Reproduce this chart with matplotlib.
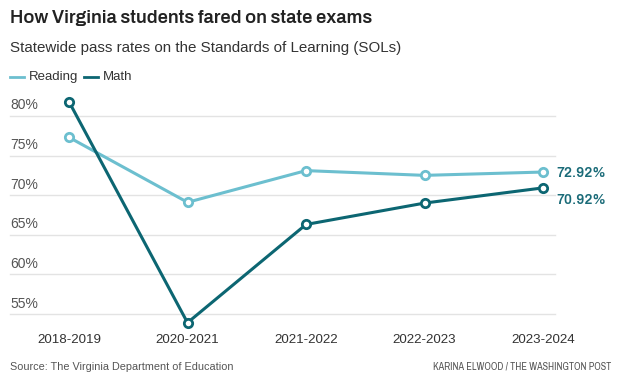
import matplotlib.pyplot as plt
from matplotlib.lines import Line2D

# data
years = ["2018-2019", "2020-2021", "2021-2022", "2022-2023", "2023-2024"]
reading = [77.3, 69.1, 73.1, 72.5, 72.92]
math_ = [81.8, 53.9, 66.3, 69.0, 70.92]
yticks = [55, 60, 65, 70, 75, 80]

c_read = "#6cbfcf"
c_math = "#0c6672"
c_text = "#333333"

body = ["Liberation Sans", "DejaVu Sans"]
bold = ["Archivo", "Liberation Sans", "DejaVu Sans"]
narrow = ["Archivo Narrow", "Liberation Sans", "DejaVu Sans"]
plt.rcParams["font.family"] = body

fig = plt.figure(figsize=(6.24, 3.84), dpi=100)
ax = fig.add_axes([0, 0.1411, 1, 0.6188])
x = list(range(len(years)))
# axes spans the full width; x range chosen so points land where the reference puts them
ax.set_xlim(-69 / 118.5, (624 - 69) / 118.5)
ax.set_ylim(53, 83)
for s in ax.spines.values():
    s.set_visible(False)
ax.set_yticks([])
ax.set_xticks(x)
ax.set_xticklabels(years, fontsize=9.6, color=c_text)
ax.tick_params(axis="x", length=0, pad=3)
ax.patch.set_alpha(0)

# gridlines + labels above them
gx0 = (10 - 69) / 118.5
gx1 = (555 - 69) / 118.5
for v in yticks:
    ax.plot([gx0, gx1], [v, v], color="#e3e3e3", lw=1, zorder=0)
    ax.annotate(f"{v}%", (gx0, v), xytext=(0, 2.5), textcoords="offset points",
                fontsize=10, color="#555555", va="bottom", ha="left")

ax.plot(x, reading, color=c_read, lw=2.2, marker="o", ms=6, mfc="white",
        mec=c_read, mew=2, zorder=3)
ax.plot(x, math_, color=c_math, lw=2.2, marker="o", ms=6, mfc="white",
        mec=c_math, mew=2, zorder=4)

ax.annotate(f"{reading[-1]:.2f}%", (x[-1], reading[-1]), xytext=(9.5, -1),
            textcoords="offset points", fontsize=10, fontweight="bold",
            family=bold, color="#1a6b78", va="center", ha="left")
ax.annotate(f"{math_[-1]:.2f}%", (x[-1], math_[-1]), xytext=(9.5, -8.5),
            textcoords="offset points", fontsize=10, fontweight="bold",
            family=bold, color="#1a6b78", va="center", ha="left")

# titles
fig.text(10 / 624, 1 - 17.5 / 384, "How Virginia students fared on state exams",
         fontsize=13.2, fontweight="bold", family=bold, color="#222222",
         va="center", ha="left")
fig.text(10 / 624, 1 - 48 / 384, "Statewide pass rates on the Standards of Learning (SOLs)",
         fontsize=10.9, color=c_text, va="center", ha="left")

# legend
ly = 1 - 77 / 384
fig.add_artist(Line2D([10 / 624, 24 / 624], [ly, ly], color=c_read, lw=2))
fig.text(29 / 624, ly, "Reading", fontsize=9.5, color=c_text, va="center")
fig.add_artist(Line2D([84 / 624, 98 / 624], [ly, ly], color=c_math, lw=2))
fig.text(103 / 624, ly, "Math", fontsize=9.5, color=c_text, va="center")

# footer
fig.text(10 / 624, 1 - 367 / 384, "Source: The Virginia Department of Education",
         fontsize=7.8, color="#555555", va="center")
fig.text(611 / 624, 1 - 367 / 384, "KARINA ELWOOD / THE WASHINGTON POST",
         fontsize=7.3, family=narrow, color="#555555", va="center", ha="right")

fig.savefig("out.png", dpi=100)
